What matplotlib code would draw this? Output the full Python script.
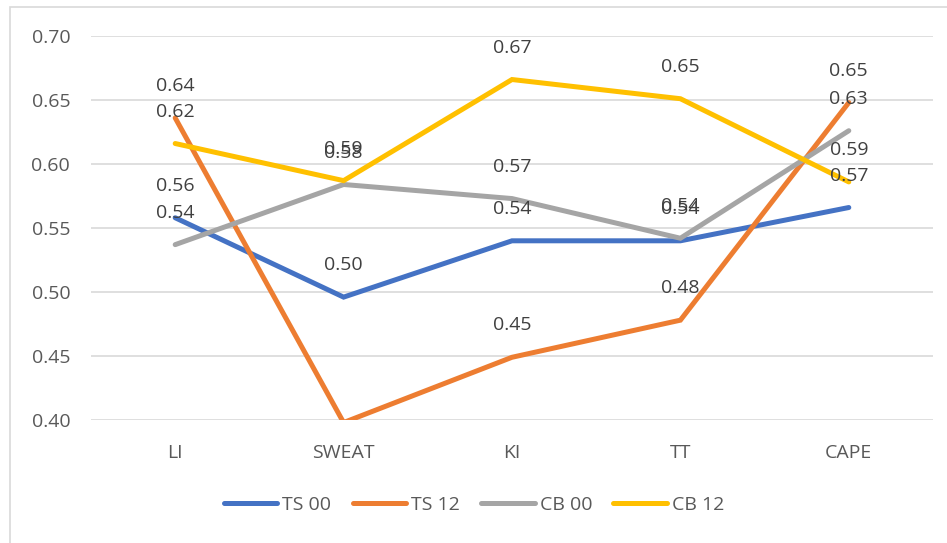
import matplotlib
import matplotlib.pyplot as plt
from matplotlib.patches import Rectangle
matplotlib.use('Agg')

categories = ['LI', 'SWEAT', 'KI', 'TT', 'CAPE']
ts_00 = [0.558, 0.496, 0.540, 0.540, 0.566]
ts_12 = [0.636, 0.398, 0.449, 0.478, 0.648]
cb_00 = [0.537, 0.584, 0.573, 0.542, 0.626]
cb_12 = [0.616, 0.587, 0.666, 0.651, 0.586]

series = [
    ('TS 00', ts_00, '#4472C4'),
    ('TS 12', ts_12, '#ED7D31'),
    ('CB 00', cb_00, '#A5A5A5'),
    ('CB 12', cb_12, '#FFC000'),
]

y_min, y_max = 0.40, 0.70
y_ticks = [0.40, 0.45, 0.50, 0.55, 0.60, 0.65, 0.70]

plt.rcParams['font.family'] = ['Open Sans', 'DejaVu Sans']

fig = plt.figure(figsize=(9.47, 5.43), dpi=100)
ax = fig.add_axes([91 / 947, 123 / 543, 842 / 947, 384 / 543])

x = list(range(len(categories)))
handles = []
for name, values, color in series:
    line, = ax.plot(x, values, color=color, lw=3.6, solid_capstyle='round',
                    solid_joinstyle='miter', label=name, zorder=3)
    handles.append(line)
    for xi, v in zip(x, values):
        # points below the axis minimum are clipped and get no label
        if v < y_min:
            continue
        ax.annotate(f'{v:.2f}', (xi, v), xytext=(0, 23), textcoords='offset points',
                    ha='center', va='center', fontsize=14, color='#404040', zorder=4)

ax.set_xlim(-0.5, len(categories) - 0.5)
ax.set_ylim(y_min, y_max)
ax.set_xticks(x)
ax.set_xticklabels(categories)
ax.set_yticks(y_ticks)
ax.set_yticklabels([f'{t:.2f}' for t in y_ticks])
ax.tick_params(axis='both', length=0, labelsize=14, labelcolor='#595959')
ax.tick_params(axis='y', pad=15)
ax.tick_params(axis='x', pad=17)
ax.grid(axis='y', color='#D9D9D9', lw=1.2, zorder=0)
for side in ['top', 'right', 'left', 'bottom']:
    ax.spines[side].set_visible(False)

fig.legend(handles=handles, loc='center', bbox_to_anchor=(474 / 947, 1 - 505 / 543),
           ncol=4, frameon=False, fontsize=14, handlelength=2.75, handletextpad=0.25,
           columnspacing=1.1, labelcolor='#595959')

# chart area border
fig.patches.append(Rectangle((10 / 947, -0.1), 1.2, 1.1 - 7 / 543, transform=fig.transFigure,
                             fill=False, edgecolor='#D9D9D9', lw=1.2))

fig.savefig('out.png', dpi=100)
